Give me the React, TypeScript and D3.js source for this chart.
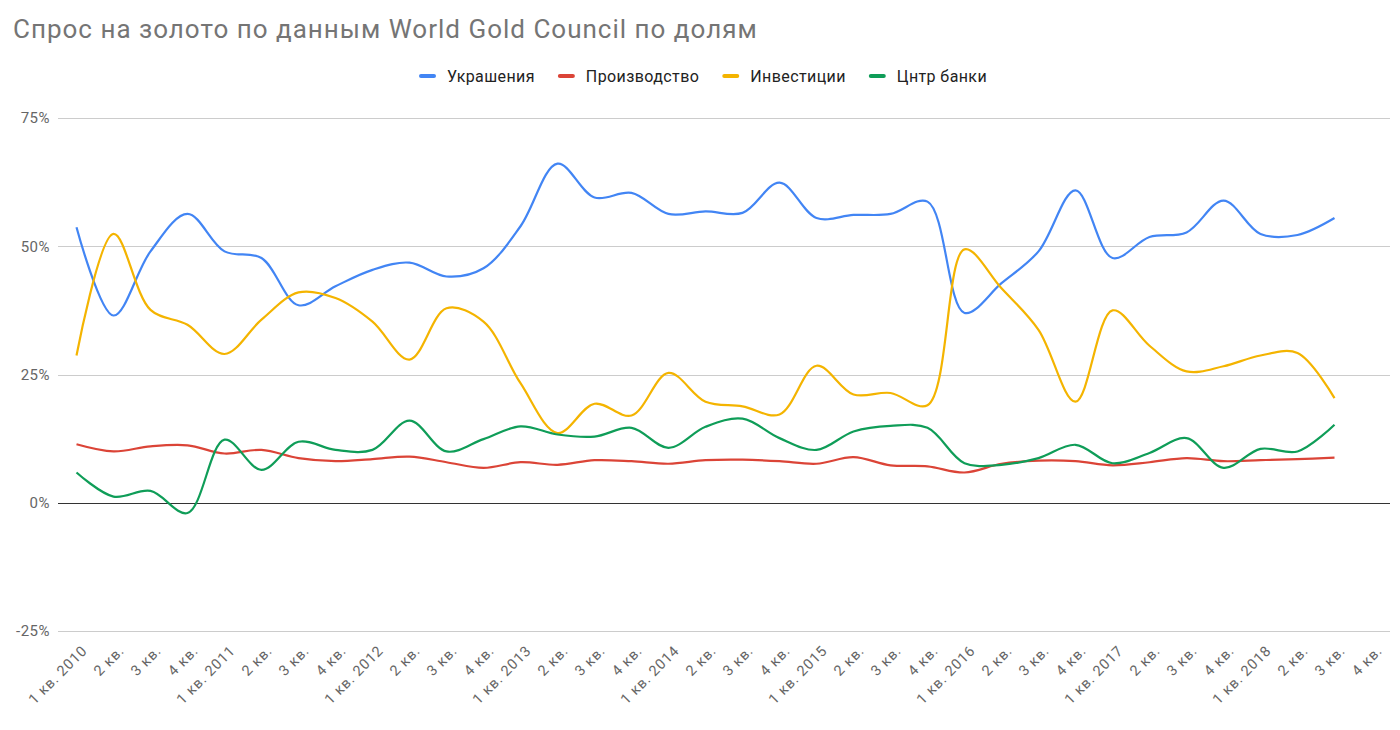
import React from "react";
import * as d3 from "d3";

const quarterLabels: string[] = [];
const years = [2010, 2011, 2012, 2013, 2014, 2015, 2016, 2017, 2018];
years.forEach((y) => {
  quarterLabels.push(`1 кв. ${y}`, "2 кв.", "3 кв.", "4 кв.");
});

const jewelry = [53.7, 36.5, 49.0, 56.3, 49.0, 47.7, 38.5, 42.2, 45.4, 46.8, 44.1, 45.7, 53.9, 66.1, 59.5, 60.4, 56.3, 56.8, 56.5, 62.4, 55.5, 56.1, 56.3, 58.7, 37.0, 42.8, 49.0, 60.9, 47.7, 51.8, 52.7, 58.9, 52.4, 52.2, 55.5];
const industry = [11.4, 10.0, 11.0, 11.2, 9.6, 10.3, 8.7, 8.1, 8.5, 9.0, 7.9, 6.8, 7.9, 7.4, 8.3, 8.1, 7.6, 8.3, 8.4, 8.1, 7.6, 8.9, 7.3, 7.1, 5.9, 7.6, 8.2, 8.1, 7.3, 7.9, 8.7, 8.1, 8.3, 8.5, 8.8];
const investment = [28.7, 52.4, 37.6, 34.7, 29.0, 35.7, 41.0, 39.9, 35.3, 27.9, 37.9, 35.3, 23.3, 13.6, 19.3, 17.0, 25.3, 19.7, 18.8, 17.2, 26.7, 21.1, 21.4, 19.0, 49.4, 41.8, 33.7, 19.7, 37.5, 30.6, 25.6, 26.6, 28.7, 29.2, 20.4];
const centralBanks = [5.9, 1.2, 2.3, -2.0, 12.3, 6.4, 11.9, 10.3, 10.3, 16.0, 10.0, 12.4, 14.9, 13.3, 12.9, 14.6, 10.7, 14.8, 16.4, 12.6, 10.3, 13.9, 15.0, 14.6, 7.7, 7.4, 8.7, 11.3, 7.7, 9.7, 12.6, 6.8, 10.5, 10.0, 15.2];

const seriesNames = ["Украшения", "Производство", "Инвестиции", "Цнтр банки"];
const seriesColors = ["#4285F4", "#DB4437", "#F4B400", "#0F9D58"];
const seriesData = [jewelry, industry, investment, centralBanks];
const yTicks = [-25, 0, 25, 50, 75];

const W = 1400;
const H = 730;
const FONT = "Roboto, 'Noto Sans', sans-serif";

function measure(text: string, size: number, spacing: number): number {
  const fallback = text.length * size * 0.55;
  if (typeof document === "undefined") return fallback;
  const c = document.createElement("canvas");
  const ctx = c.getContext("2d");
  if (!ctx) return fallback;
  ctx.font = `${size}px Roboto`;
  return ctx.measureText(text).width + spacing * text.length;
}

export default function App() {
  const left = 58;
  const right = 1390;
  const idx = quarterLabels.map((_, i) => i);
  const x = d3.scalePoint<number>().domain(idx).range([left, right]).padding(0.5);
  const y = d3.scaleLinear().domain([-25, 75]).range([631, 118]);

  const line = d3
    .line<number>()
    .x((_, i) => x(i) as number)
    .y((d) => y(d))
    .curve(d3.curveCatmullRom.alpha(0.5));

  const legendSize = 16;
  const legendSpacing = 0.4;
  let lx = 419;
  const legendItems = seriesNames.map((name, i) => {
    const item = { name, color: seriesColors[i], x: lx };
    lx += 17 + 11 + measure(name, legendSize, legendSpacing) + 23;
    return item;
  });

  return (
    <svg width={W} height={H} style={{ position: "absolute", left: 0, top: 0, fontFamily: FONT, background: "#fff" }}>
      <text x={13} y={38} fontSize={26} fill="#757575" letterSpacing={1}>
        Спрос на золото по данным World Gold Council по долям
      </text>

      {legendItems.map((it) => (
        <g key={it.name}>
          <rect x={it.x} y={74} width={17} height={4} rx={2} fill={it.color} />
          <text x={it.x + 28} y={81.5} fontSize={legendSize} fill="#222" letterSpacing={legendSpacing}>
            {it.name}
          </text>
        </g>
      ))}

      {yTicks.map((t) => (
        <g key={t}>
          <line
            x1={left}
            x2={right}
            y1={Math.round(y(t)) + 0.5}
            y2={Math.round(y(t)) + 0.5}
            stroke={t === 0 ? "#333" : "#ccc"}
            strokeWidth={1}
          />
          <text x={50} y={y(t)} dy="0.35em" textAnchor="end" fontSize={15} fill="#666" letterSpacing={0.5}>
            {t}%
          </text>
        </g>
      ))}

      {seriesData.map((data, si) => (
        <path key={si} d={line(data) || ""} fill="none" stroke={seriesColors[si]} strokeWidth={2.2} />
      ))}

      {idx.map((i) => (
        <text
          key={i}
          transform={`translate(${(x(i) as number) + 8},${648}) rotate(-45)`}
          textAnchor="end"
          dy="0.35em"
          fontSize={14.5}
          fill="#666"
          letterSpacing={0.8}
        >
          {quarterLabels[i]}
        </text>
      ))}
    </svg>
  );
}
